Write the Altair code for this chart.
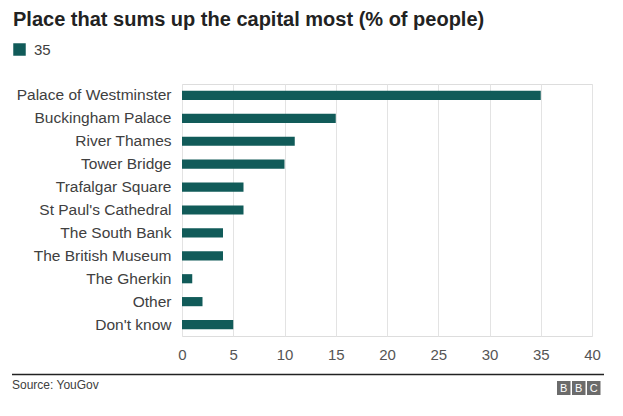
import altair as alt
import pandas as pd

places = ["Palace of Westminster", "Buckingham Palace", "River Thames", "Tower Bridge",
          "Trafalgar Square", "St Paul's Cathedral", "The South Bank", "The British Museum",
          "The Gherkin", "Other", "Don't know"]
values = [35, 15, 11, 10, 6, 6, 4, 4, 1, 2, 5]
series_name = "35"
x_ticks = [0, 5, 10, 15, 20, 25, 30, 35, 40]
title_text = "Place that sums up the capital most (% of people)"
source_text = "Source: YouGov"
logo_letters = ["B", "B", "C"]

FONT = "Liberation Sans"
BAR = "#115b59"

df = pd.DataFrame({"place": places, "value": values, "series": [series_name] * len(places)})

bars = alt.Chart(df).mark_bar().encode(
    y=alt.Y("place:N", sort=places,
            scale=alt.Scale(paddingInner=0.6, paddingOuter=0.3),
            axis=alt.Axis(title=None, ticks=False, domain=False, labelPadding=11,
                          labelFontSize=15.5, labelColor="#404040", labelFont=FONT,
                          labelLimit=300)),
    x=alt.X("value:Q", scale=alt.Scale(domain=[0, 40], nice=False),
            axis=alt.Axis(title=None, values=x_ticks, ticks=False, domain=False,
                          grid=True, gridColor="#e3e3e3", labelPadding=11,
                          labelFlush=False,
                          labelFontSize=15, labelColor="#555555", labelFont=FONT)),
    color=alt.Color("series:N", scale=alt.Scale(range=[BAR]),
                    legend=alt.Legend(title=None, orient="none", legendX=-170, legendY=-42,
                                      symbolType="square", symbolSize=156,
                                      symbolStrokeWidth=0, labelFontSize=15,
                                      labelColor="#404040", labelFont=FONT,
                                      labelOffset=7, padding=0)),
)

title = alt.Chart(pd.DataFrame({"t": [title_text]})).mark_text(
    align="left", baseline="alphabetic", fontSize=20, fontWeight="bold",
    font=FONT, color="#222222"
).encode(x=alt.value(-169), y=alt.value(-58), text="t:N")

source = alt.Chart(pd.DataFrame({"t": [source_text]})).mark_text(
    align="left", baseline="alphabetic", fontSize=12, font=FONT, color="#404040"
).encode(x=alt.value(-170), y=alt.value(305), text="t:N")

rule = alt.Chart(pd.DataFrame({"a": [0]})).mark_rule(color="#222222", strokeWidth=1.5).encode(
    x=alt.value(-170), x2=alt.value(422), y=alt.value(290.5))

logo_layers = []
for i, letter in enumerate(logo_letters):
    x0 = 375 + 15 * i
    box = alt.Chart(pd.DataFrame({"l": [letter]})).mark_rect(color="#6b6b6b").encode(
        x=alt.value(x0), x2=alt.value(x0 + 13.5), y=alt.value(297), y2=alt.value(311))
    txt = alt.Chart(pd.DataFrame({"l": [letter]})).mark_text(
        align="center", baseline="middle", fontSize=11,
        font=FONT, color="white").encode(
        x=alt.value(x0 + 6.75), y=alt.value(304.5), text="l:N")
    logo_layers += [box, txt]

chart = alt.layer(bars, title, source, rule, *logo_layers).properties(
    width=410, height=252,
    padding={"left": 174, "top": 76, "right": 23, "bottom": 72},
    autosize=alt.AutoSizeParams(type="none"),
).configure_view(stroke=None).configure(background="white")

chart.save("out.html", embed_options={"renderer": "svg", "actions": False})
